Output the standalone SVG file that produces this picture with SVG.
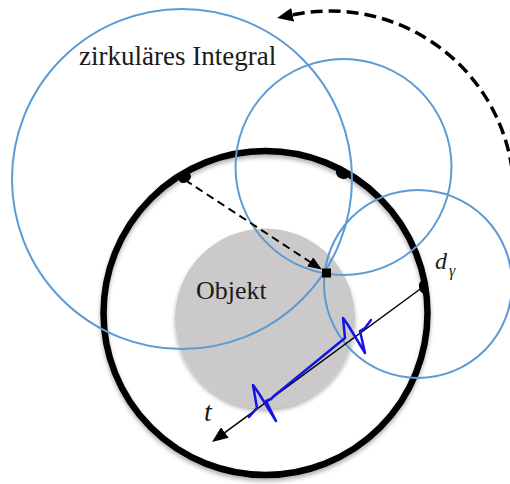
<svg xmlns="http://www.w3.org/2000/svg" width="510" height="484" viewBox="0 0 510 484">
<style>
.blue{fill:none;stroke:#5b9bd5;stroke-width:2}
.lbl{font-family:"Liberation Serif","Times New Roman",serif;fill:#1a1a1a}
.it{font-style:italic}
.dot{fill:#000}
</style>
<defs>
<filter id="sh" x="-10%" y="-10%" width="120%" height="125%">
<feDropShadow dx="0" dy="3" stdDeviation="2" flood-color="#000" flood-opacity="0.3"/>
</filter>
<marker id="arcHead" markerUnits="userSpaceOnUse" markerWidth="16" markerHeight="14" viewBox="0 0 16 14" refX="1" refY="7" orient="auto">
<path d="M0,0 L16,7 L0,14 z" fill="#000"/>
</marker>
<marker id="dashHead" markerUnits="userSpaceOnUse" markerWidth="14" markerHeight="11" viewBox="0 0 14 11" refX="1" refY="5.5" orient="auto">
<path d="M0,0 L14,5.5 L0,11 z" fill="#000"/>
</marker>
<marker id="lineHead" markerUnits="userSpaceOnUse" markerWidth="16" markerHeight="13" viewBox="0 0 16 13" refX="1" refY="6.5" orient="auto">
<path d="M0,0 L16,6.5 L0,13 z" fill="#000"/>
</marker>
</defs>
<rect width="510" height="484" fill="#fff"/>
<g id="ring">
<circle cx="265.5" cy="313" r="162" fill="none" stroke="#000" stroke-width="6.5" filter="url(#sh)"/>
</g>
<g id="objekt">
<circle cx="265" cy="318.5" r="90" fill="#cbc9ca" filter="url(#sh)"/>
<text class="lbl" x="196" y="299" font-size="26">Objekt</text>
</g>
<g id="circles">
<circle id="c-large" class="blue" cx="182" cy="179" r="170"/>
<circle id="c-medium" class="blue" cx="343.5" cy="167" r="108"/>
<circle id="c-small" class="blue" cx="418" cy="284" r="94"/>
</g>
<g id="detectors">
<ellipse class="dot" cx="185" cy="178" rx="6.5" ry="4.5" transform="rotate(-31 185 178)"/>
<ellipse class="dot" cx="342" cy="174" rx="6.5" ry="4.5" transform="rotate(29 342 174)"/>
<ellipse class="dot" cx="423" cy="287" rx="6.5" ry="4" transform="rotate(81 423 287)"/>
<rect class="dot" x="322" y="268.5" width="9" height="9"/>
</g>
<g id="connectors">
<path d="M512,169 A184,184 0 0 0 291.7,15" fill="none" stroke="#000" stroke-width="3.5" stroke-dasharray="12 6" marker-end="url(#arcHead)"/>
<path d="M185,180 L311,262.5" fill="none" stroke="#000" stroke-width="2" stroke-dasharray="8 5" marker-end="url(#dashHead)"/>
<path d="M423,287 L224.1,433.1" fill="none" stroke="#000" stroke-width="1.5" marker-end="url(#lineHead)"/>
</g>
<g id="signal">
<path d="M249,417 L257,408 L253,385 L258,392 L276,421 L266,401 L271,399 L274,396 L345,338 L343,318 L348,325 L365,353 L360,331 L365,328 L371,320" fill="none" stroke="#1414e6" stroke-width="2.5" stroke-linejoin="round" stroke-linecap="round"/>
</g>
<g id="labels">
<text class="lbl" x="79" y="65" font-size="27">zirkuläres Integral</text>
<text class="lbl it" x="204" y="421" font-size="28">t</text>
<text class="lbl it" x="435" y="269" font-size="24">d</text>
<text class="lbl it" x="449" y="276" font-size="16">γ</text>
</g>
</svg>
